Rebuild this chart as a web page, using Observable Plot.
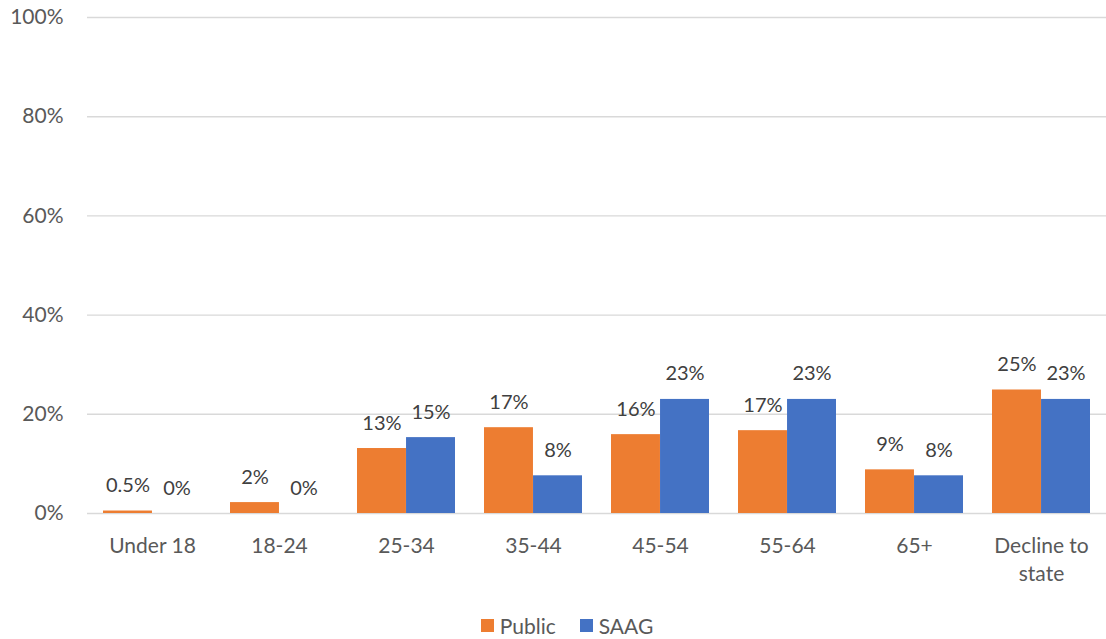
<!DOCTYPE html>
<html>
<head>
<meta charset="utf-8">
<script src="https://cdn.jsdelivr.net/npm/d3@7"></script>
<script src="https://cdn.jsdelivr.net/npm/@observablehq/plot@0.6"></script>
<style>
  html, body { margin: 0; padding: 0; background: #fff; }
  body { width: 1106px; height: 639px; overflow: hidden; font-family: Lato, "Open Sans", sans-serif; }
  #legend { display: flex; justify-content: center; align-items: center; gap: 0; height: 30px; margin-top: 10px; padding-left: 28px; font-size: 21px; color: #595959; }
  #legend .item { display: flex; align-items: center; margin: 0 12px; }
  #legend .sw { width: 13px; height: 13px; margin-right: 6px; display: inline-block; }
</style>
</head>
<body>
<div id="chart"></div>
<div id="legend"></div>
<script>
const categories = ["Under 18", "18-24", "25-34", "35-44", "45-54", "55-64", "65+", "Decline to state"];
const categoryLabels = ["Under 18", "18-24", "25-34", "35-44", "45-54", "55-64", "65+", "Decline to\nstate"];
const seriesNames = ["Public", "SAAG"];
const publicValues = [0.5, 2.2, 13.1, 17.3, 15.9, 16.7, 8.8, 24.9];
const saagValues = [0, 0, 15.3, 7.6, 23.0, 23.0, 7.6, 23.0];
const publicLabels = ["0.5%", "2%", "13%", "17%", "16%", "17%", "9%", "25%"];
const saagLabels = ["0%", "0%", "15%", "8%", "23%", "23%", "8%", "23%"];
const yTicks = [0, 20, 40, 60, 80, 100];
const colors = ["#ED7D31", "#4472C4"];

const pub = categories.map((c, i) => ({cat: c, value: publicValues[i], label: publicLabels[i]}));
const saag = categories.map((c, i) => ({cat: c, value: saagValues[i], label: saagLabels[i]}));

const W = 1106, H = 600, mL = 87, mR = 0, mT = 17, mB = 87;
const pad = 0.23;
const step = (W - mL - mR) / categories.length;
const half = step * (1 - pad) / 2;

const chart = Plot.plot({
  width: W, height: H,
  marginLeft: mL, marginRight: mR, marginTop: mT, marginBottom: mB,
  style: {fontFamily: "Lato, 'Open Sans', sans-serif", background: "#fff"},
  x: {domain: categories, paddingInner: pad, paddingOuter: pad / 2, label: null},
  y: {domain: [0, 100], label: null},
  marks: [
    Plot.ruleY(yTicks, {stroke: "#d9d9d9", strokeWidth: 1.4}),
    Plot.barY(pub, {x: "cat", y: "value", fill: colors[0], insetRight: half}),
    Plot.barY(saag, {x: "cat", y: "value", fill: colors[1], insetLeft: half}),
    Plot.text(pub, {x: "cat", y: "value", text: "label", dx: -half / 2, dy: -19, lineAnchor: "bottom", fill: "#404040", fontSize: 20}),
    Plot.text(saag, {x: "cat", y: "value", text: "label", dx: half / 2, dy: -19, lineAnchor: "bottom", fill: "#404040", fontSize: 20}),
    Plot.axisY({ticks: yTicks, tickFormat: d => d + "%", tickSize: 0, tickPadding: 24, fontSize: 21, color: "#595959", label: null}),
    Plot.axisX({tickFormat: (d, i) => categoryLabels[categories.indexOf(d)], tickSize: 0, tickPadding: 20, fontSize: 21, color: "#595959", lineHeight: 1.33, label: null})
  ]
});
document.getElementById("chart").appendChild(chart);

const legend = document.getElementById("legend");
seriesNames.forEach((s, i) => {
  const item = document.createElement("span");
  item.className = "item";
  const sw = document.createElement("span");
  sw.className = "sw";
  sw.style.background = colors[i];
  item.appendChild(sw);
  item.appendChild(document.createTextNode(s));
  legend.appendChild(item);
});
</script>
</body>
</html>
